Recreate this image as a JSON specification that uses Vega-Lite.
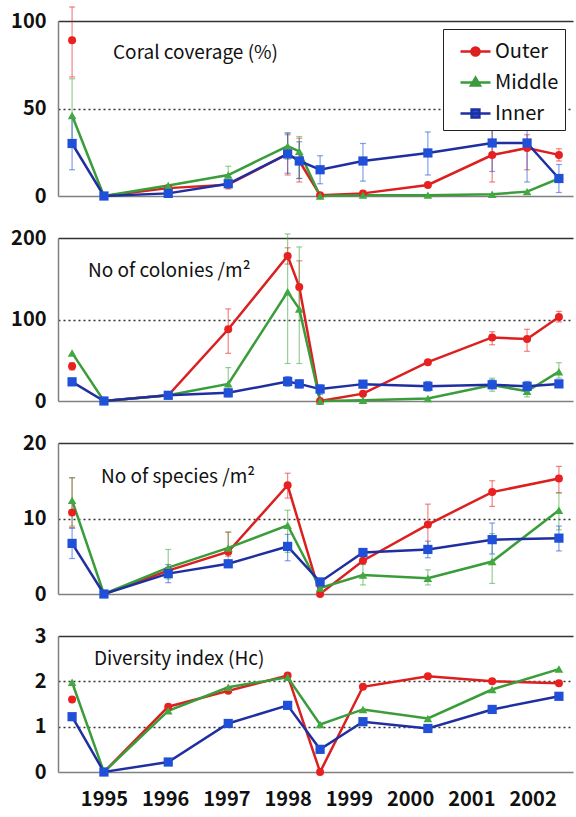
{
 "$schema": "https://vega.github.io/schema/vega-lite/v6.json",
 "padding": {"left": 10, "top": 6, "right": 2, "bottom": 4},
 "background": "white",
 "config": {
  "view": {"stroke": null},
  "font": "Noto Sans CJK JP",
  "axis": {"labelFont": "Noto Sans CJK JP", "labelFontSize": 20, "labelFontWeight": "bold", "labelColor": "#111", "ticks": false, "domainColor": "#808080", "domainWidth": 1.5, "labelPadding": 12},
  "title": {"font": "Noto Sans CJK JP", "fontSize": 19, "fontWeight": "normal", "color": "#111", "anchor": "start", "frame": "group", "baseline": "middle"}
 },
 "datasets": {
  "d": [
   {"p":"cov","s":"Outer","t":1994.48,"v":89,"lo":68,"hi":108,"g":"a"},
   {"p":"cov","s":"Outer","t":1995.0,"v":0,"g":"b"},
   {"p":"cov","s":"Outer","t":1996.05,"v":4.5,"g":"b"},
   {"p":"cov","s":"Outer","t":1997.03,"v":6.5,"lo":4,"hi":9,"g":"b"},
   {"p":"cov","s":"Outer","t":1998.0,"v":24,"lo":12,"hi":35,"g":"b"},
   {"p":"cov","s":"Outer","t":1998.19,"v":20,"lo":8,"hi":33,"g":"b"},
   {"p":"cov","s":"Outer","t":1998.53,"v":0.5,"g":"b"},
   {"p":"cov","s":"Outer","t":1999.23,"v":1.5,"g":"b"},
   {"p":"cov","s":"Outer","t":2000.29,"v":6.3,"g":"b"},
   {"p":"cov","s":"Outer","t":2001.34,"v":23.4,"lo":8,"hi":41,"g":"b"},
   {"p":"cov","s":"Outer","t":2001.91,"v":27.4,"lo":15,"hi":35,"g":"b"},
   {"p":"cov","s":"Outer","t":2002.43,"v":23.5,"lo":20,"hi":27,"g":"b"},
   {"p":"cov","s":"Middle","t":1994.48,"v":46,"lo":28,"hi":67,"g":"b"},
   {"p":"cov","s":"Middle","t":1995.0,"v":0,"g":"b"},
   {"p":"cov","s":"Middle","t":1996.05,"v":6,"g":"b"},
   {"p":"cov","s":"Middle","t":1997.03,"v":12,"lo":8,"hi":17,"g":"b"},
   {"p":"cov","s":"Middle","t":1998.0,"v":28.5,"lo":21,"hi":36,"g":"b"},
   {"p":"cov","s":"Middle","t":1998.19,"v":25.5,"lo":10,"hi":34,"g":"b"},
   {"p":"cov","s":"Middle","t":1998.53,"v":0,"g":"b"},
   {"p":"cov","s":"Middle","t":1999.23,"v":0.5,"g":"b"},
   {"p":"cov","s":"Middle","t":2000.29,"v":0.5,"g":"b"},
   {"p":"cov","s":"Middle","t":2001.34,"v":1,"g":"b"},
   {"p":"cov","s":"Middle","t":2001.91,"v":2.5,"g":"b"},
   {"p":"cov","s":"Middle","t":2002.43,"v":10,"g":"b"},
   {"p":"cov","s":"Inner","t":1994.48,"v":30,"lo":15,"hi":45,"g":"b"},
   {"p":"cov","s":"Inner","t":1995.0,"v":0,"g":"b"},
   {"p":"cov","s":"Inner","t":1996.05,"v":1.5,"g":"b"},
   {"p":"cov","s":"Inner","t":1997.03,"v":7,"lo":5,"hi":9,"g":"b"},
   {"p":"cov","s":"Inner","t":1998.0,"v":24,"lo":13,"hi":36,"g":"b"},
   {"p":"cov","s":"Inner","t":1998.19,"v":20,"lo":10,"hi":31,"g":"b"},
   {"p":"cov","s":"Inner","t":1998.53,"v":15,"lo":7,"hi":23,"g":"b"},
   {"p":"cov","s":"Inner","t":1999.23,"v":20,"lo":8.5,"hi":30,"g":"b"},
   {"p":"cov","s":"Inner","t":2000.29,"v":24.6,"lo":12,"hi":36.6,"g":"b"},
   {"p":"cov","s":"Inner","t":2001.34,"v":30.3,"lo":14,"hi":45.7,"g":"b"},
   {"p":"cov","s":"Inner","t":2001.91,"v":30.3,"lo":8,"hi":44.6,"g":"b"},
   {"p":"cov","s":"Inner","t":2002.43,"v":10,"lo":2,"hi":18,"g":"b"},

   {"p":"col","s":"Outer","t":1994.48,"v":42.7,"lo":38,"hi":47,"g":"a"},
   {"p":"col","s":"Outer","t":1995.0,"v":0,"g":"b"},
   {"p":"col","s":"Outer","t":1996.05,"v":7,"g":"b"},
   {"p":"col","s":"Outer","t":1997.03,"v":88,"lo":58.5,"hi":113,"g":"b"},
   {"p":"col","s":"Outer","t":1998.0,"v":178,"lo":168,"hi":188,"g":"b"},
   {"p":"col","s":"Outer","t":1998.19,"v":140,"lo":110,"hi":172,"g":"b"},
   {"p":"col","s":"Outer","t":1998.53,"v":0,"g":"b"},
   {"p":"col","s":"Outer","t":1999.23,"v":9,"g":"b"},
   {"p":"col","s":"Outer","t":2000.29,"v":47.6,"g":"b"},
   {"p":"col","s":"Outer","t":2001.34,"v":78,"lo":69,"hi":85,"g":"b"},
   {"p":"col","s":"Outer","t":2001.91,"v":76,"lo":61,"hi":88,"g":"b"},
   {"p":"col","s":"Outer","t":2002.43,"v":103,"lo":97,"hi":110,"g":"b"},
   {"p":"col","s":"Middle","t":1994.48,"v":59,"g":"b"},
   {"p":"col","s":"Middle","t":1995.0,"v":0,"g":"b"},
   {"p":"col","s":"Middle","t":1996.05,"v":7,"g":"b"},
   {"p":"col","s":"Middle","t":1997.03,"v":21,"lo":8,"hi":41,"g":"b"},
   {"p":"col","s":"Middle","t":1998.0,"v":134,"lo":46,"hi":205,"g":"b"},
   {"p":"col","s":"Middle","t":1998.19,"v":113,"lo":46,"hi":189,"g":"b"},
   {"p":"col","s":"Middle","t":1998.53,"v":0,"g":"b"},
   {"p":"col","s":"Middle","t":1999.23,"v":1,"g":"b"},
   {"p":"col","s":"Middle","t":2000.29,"v":3,"g":"b"},
   {"p":"col","s":"Middle","t":2001.34,"v":19.5,"lo":12,"hi":28,"g":"b"},
   {"p":"col","s":"Middle","t":2001.91,"v":12,"lo":5,"hi":20,"g":"b"},
   {"p":"col","s":"Middle","t":2002.43,"v":36,"lo":28,"hi":47,"g":"b"},
   {"p":"col","s":"Inner","t":1994.48,"v":23.5,"lo":19,"hi":28,"g":"b"},
   {"p":"col","s":"Inner","t":1995.0,"v":0,"g":"b"},
   {"p":"col","s":"Inner","t":1996.05,"v":7,"g":"b"},
   {"p":"col","s":"Inner","t":1997.03,"v":10,"lo":5,"hi":15,"g":"b"},
   {"p":"col","s":"Inner","t":1998.0,"v":24,"lo":18,"hi":30,"g":"b"},
   {"p":"col","s":"Inner","t":1998.19,"v":21,"lo":16,"hi":26,"g":"b"},
   {"p":"col","s":"Inner","t":1998.53,"v":14.6,"lo":8,"hi":20,"g":"b"},
   {"p":"col","s":"Inner","t":1999.23,"v":20.7,"lo":16,"hi":25,"g":"b"},
   {"p":"col","s":"Inner","t":2000.29,"v":18,"lo":12,"hi":24,"g":"b"},
   {"p":"col","s":"Inner","t":2001.34,"v":20,"lo":15,"hi":26,"g":"b"},
   {"p":"col","s":"Inner","t":2001.91,"v":18,"lo":12,"hi":24,"g":"b"},
   {"p":"col","s":"Inner","t":2002.43,"v":21,"lo":17,"hi":25,"g":"b"},

   {"p":"sp","s":"Outer","t":1994.48,"v":10.8,"lo":8.8,"hi":15.4,"g":"a"},
   {"p":"sp","s":"Outer","t":1995.0,"v":0,"g":"b"},
   {"p":"sp","s":"Outer","t":1996.05,"v":3.1,"g":"b"},
   {"p":"sp","s":"Outer","t":1997.03,"v":5.6,"lo":5,"hi":8.2,"g":"b"},
   {"p":"sp","s":"Outer","t":1998.0,"v":14.4,"lo":12.7,"hi":16,"g":"b"},
   {"p":"sp","s":"Outer","t":1998.53,"v":0,"g":"b"},
   {"p":"sp","s":"Outer","t":1999.23,"v":4.4,"g":"b"},
   {"p":"sp","s":"Outer","t":2000.29,"v":9.2,"lo":6.2,"hi":11.9,"g":"b"},
   {"p":"sp","s":"Outer","t":2001.34,"v":13.5,"lo":11.6,"hi":15,"g":"b"},
   {"p":"sp","s":"Outer","t":2002.43,"v":15.3,"lo":13.4,"hi":16.9,"g":"b"},
   {"p":"sp","s":"Middle","t":1994.48,"v":12.4,"lo":9,"hi":15.4,"g":"b"},
   {"p":"sp","s":"Middle","t":1995.0,"v":0,"g":"b"},
   {"p":"sp","s":"Middle","t":1996.05,"v":3.5,"lo":2,"hi":5.9,"g":"b"},
   {"p":"sp","s":"Middle","t":1997.03,"v":6.1,"lo":4.5,"hi":8.2,"g":"b"},
   {"p":"sp","s":"Middle","t":1998.0,"v":9.1,"lo":5.5,"hi":11.1,"g":"b"},
   {"p":"sp","s":"Middle","t":1998.53,"v":0.8,"g":"b"},
   {"p":"sp","s":"Middle","t":1999.23,"v":2.5,"lo":1.2,"hi":3.9,"g":"b"},
   {"p":"sp","s":"Middle","t":2000.29,"v":2.1,"lo":1.2,"hi":3.2,"g":"b"},
   {"p":"sp","s":"Middle","t":2001.34,"v":4.3,"lo":1.4,"hi":8,"g":"b"},
   {"p":"sp","s":"Middle","t":2002.43,"v":11.1,"lo":8.5,"hi":13.4,"g":"b"},
   {"p":"sp","s":"Inner","t":1994.48,"v":6.7,"lo":4.7,"hi":8.7,"g":"b"},
   {"p":"sp","s":"Inner","t":1995.0,"v":0,"g":"b"},
   {"p":"sp","s":"Inner","t":1996.05,"v":2.7,"lo":1.5,"hi":3.9,"g":"b"},
   {"p":"sp","s":"Inner","t":1997.03,"v":4.0,"g":"b"},
   {"p":"sp","s":"Inner","t":1998.0,"v":6.3,"lo":4.4,"hi":7.9,"g":"b"},
   {"p":"sp","s":"Inner","t":1998.53,"v":1.6,"g":"b"},
   {"p":"sp","s":"Inner","t":1999.23,"v":5.5,"g":"b"},
   {"p":"sp","s":"Inner","t":2000.29,"v":5.9,"lo":4.8,"hi":7,"g":"b"},
   {"p":"sp","s":"Inner","t":2001.34,"v":7.2,"lo":5.3,"hi":9.4,"g":"b"},
   {"p":"sp","s":"Inner","t":2002.43,"v":7.4,"lo":5.7,"hi":9,"g":"b"},

   {"p":"div","s":"Outer","t":1994.48,"v":1.6,"g":"a"},
   {"p":"div","s":"Outer","t":1995.0,"v":0,"g":"b"},
   {"p":"div","s":"Outer","t":1996.05,"v":1.44,"g":"b"},
   {"p":"div","s":"Outer","t":1997.03,"v":1.79,"g":"b"},
   {"p":"div","s":"Outer","t":1998.0,"v":2.13,"g":"b"},
   {"p":"div","s":"Outer","t":1998.53,"v":0,"g":"b"},
   {"p":"div","s":"Outer","t":1999.23,"v":1.88,"g":"b"},
   {"p":"div","s":"Outer","t":2000.29,"v":2.11,"g":"b"},
   {"p":"div","s":"Outer","t":2001.34,"v":2.0,"g":"b"},
   {"p":"div","s":"Outer","t":2002.43,"v":1.96,"g":"b"},
   {"p":"div","s":"Middle","t":1994.48,"v":1.98,"g":"b"},
   {"p":"div","s":"Middle","t":1995.0,"v":0,"g":"b"},
   {"p":"div","s":"Middle","t":1996.05,"v":1.35,"g":"b"},
   {"p":"div","s":"Middle","t":1997.03,"v":1.87,"g":"b"},
   {"p":"div","s":"Middle","t":1998.0,"v":2.09,"g":"b"},
   {"p":"div","s":"Middle","t":1998.53,"v":1.05,"g":"b"},
   {"p":"div","s":"Middle","t":1999.23,"v":1.38,"g":"b"},
   {"p":"div","s":"Middle","t":2000.29,"v":1.18,"g":"b"},
   {"p":"div","s":"Middle","t":2001.34,"v":1.82,"g":"b"},
   {"p":"div","s":"Middle","t":2002.43,"v":2.27,"g":"b"},
   {"p":"div","s":"Inner","t":1994.48,"v":1.22,"g":"b"},
   {"p":"div","s":"Inner","t":1995.0,"v":0,"g":"b"},
   {"p":"div","s":"Inner","t":1996.05,"v":0.22,"g":"b"},
   {"p":"div","s":"Inner","t":1997.03,"v":1.07,"g":"b"},
   {"p":"div","s":"Inner","t":1998.0,"v":1.47,"g":"b"},
   {"p":"div","s":"Inner","t":1998.53,"v":0.5,"g":"b"},
   {"p":"div","s":"Inner","t":1999.23,"v":1.11,"g":"b"},
   {"p":"div","s":"Inner","t":2000.29,"v":0.96,"g":"b"},
   {"p":"div","s":"Inner","t":2001.34,"v":1.38,"g":"b"},
   {"p":"div","s":"Inner","t":2002.43,"v":1.67,"g":"b"}
  ]
 },
 "bounds": "flush",
 "spacing": 42,
 "resolve": {"scale": {"color": "independent", "stroke": "independent", "shape": "independent", "size": "independent"}},
 "vconcat": [
  {
   "width": 515, "height": 175,
   "data": {"name": "d"},
   "transform": [{"filter": "datum.p === 'cov'"}],
   "title": {"text": "Coral coverage (%)", "offset": -57, "dx": 55},
   "resolve": {"scale": {"color": "independent", "stroke": "independent", "shape": "independent", "size": "independent"}},
   "encoding": {
    "x": {"field": "t", "type": "quantitative", "title": null, "scale": {"domain": [1994.25, 2002.66], "nice": false, "zero": false}, "axis": {"values": [1995,1996,1997,1998,1999,2000,2001,2002], "labels": false, "grid": false}}
   },
   "layer": [
    {"mark": {"type": "line", "strokeWidth": 2.5},
     "encoding": {
      "y": {"field": "v", "type": "quantitative", "title": null, "scale": {"domain": [0, 100], "nice": false}, "axis": {"values": [0, 50, 100], "gridColor": "#333", "gridWidth": 1.5, "gridDash": {"condition": {"test": "datum.value === 100", "value": [1, 0]}, "value": [2, 3]}, "gridOpacity": {"condition": {"test": "datum.value === 0", "value": 0}, "value": 1}}},
      "stroke": {"field": "s", "type": "nominal", "scale": {"domain": ["Outer", "Middle", "Inner"], "range": ["#dc1f1f", "#3a9c3a", "#1f2fa0"]}, "legend": null},
      "detail": {"field": "g"}}},
    {"transform": [{"filter": "isValid(datum.lo)"}],
     "mark": {"type": "errorbar", "ticks": {"size": 6}, "thickness": 1.2, "opacity": 0.55},
     "encoding": {
      "y": {"field": "lo", "type": "quantitative", "title": null},
      "y2": {"field": "hi"},
      "color": {"field": "s", "type": "nominal", "scale": {"domain": ["Outer", "Middle", "Inner"], "range": ["#e82020", "#42a842", "#2150d8"]}, "legend": null}}},
    {"mark": {"type": "point", "filled": true, "opacity": 1},
     "encoding": {
      "y": {"field": "v", "type": "quantitative", "title": null},
      "color": {"field": "s", "type": "nominal", "scale": {"domain": ["Outer", "Middle", "Inner"], "range": ["#e82020", "#42a842", "#2150d8"]}, "legend": null},
      "shape": {"field": "s", "type": "nominal", "scale": {"domain": ["Outer", "Middle", "Inner"], "range": ["circle", "triangle-up", "square"]}, "legend": null},
      "size": {"field": "s", "type": "nominal", "scale": {"domain": ["Outer", "Middle", "Inner"], "range": [64, 85, 64]}, "legend": null}}},
    {"mark": {"type": "point", "filled": true, "opacity": 0, "strokeWidth": 2.5, "size": 900},
     "encoding": {
      "y": {"field": "v", "type": "quantitative", "title": null},
      "color": {"field": "s", "type": "nominal", "scale": {"domain": ["Outer", "Middle", "Inner"], "range": ["#e82020", "#42a842", "#2150d8"]},
       "legend": {"orient": "top-right", "offset": 8, "title": null, "strokeColor": "#222", "fillColor": "white", "padding": 6, "symbolOffset": 10, "labelFont": "Noto Sans CJK JP", "labelFontSize": 20, "labelColor": "#111", "symbolSize": 900, "symbolStrokeWidth": 2.5, "symbolOpacity": 1, "rowPadding": 4, "labelOffset": 3}},
      "stroke": {"field": "s", "type": "nominal", "scale": {"domain": ["Outer", "Middle", "Inner"], "range": ["#dc1f1f", "#3a9c3a", "#1f2fa0"]},
       "legend": {"orient": "top-right", "offset": 8, "title": null, "strokeColor": "#222", "fillColor": "white", "padding": 6, "symbolOffset": 10, "labelFont": "Noto Sans CJK JP", "labelFontSize": 20, "labelColor": "#111", "symbolSize": 900, "symbolStrokeWidth": 2.5, "symbolOpacity": 1, "rowPadding": 4, "labelOffset": 3}},
      "shape": {"field": "s", "type": "nominal", "scale": {"domain": ["Outer", "Middle", "Inner"], "range": ["M-1,0H1M0.27,0A0.27,0.27 0 1 1 -0.27,0A0.27,0.27 0 1 1 0.27,0Z", "M-1,0H1M0,-0.32L0.3,0.2L-0.3,0.2Z", "M-1,0H1M-0.26,-0.26H0.26V0.26H-0.26Z"]},
       "legend": {"orient": "top-right", "offset": 8, "title": null, "strokeColor": "#222", "fillColor": "white", "padding": 6, "symbolOffset": 10, "labelFont": "Noto Sans CJK JP", "labelFontSize": 20, "labelColor": "#111", "symbolSize": 900, "symbolStrokeWidth": 2.5, "symbolOpacity": 1, "rowPadding": 4, "labelOffset": 3}}}}
   ]
  },
  {
   "width": 515, "height": 163,
   "data": {"name": "d"},
   "transform": [{"filter": "datum.p === 'col'"}],
   "title": {"text": "No of colonies /m²", "offset": -53, "dx": 30},
   "encoding": {
    "x": {"field": "t", "type": "quantitative", "title": null, "scale": {"domain": [1994.25, 2002.66], "nice": false, "zero": false}, "axis": {"values": [1995,1996,1997,1998,1999,2000,2001,2002], "labels": false, "grid": false}}
   },
   "layer": [
    {"mark": {"type": "line", "strokeWidth": 2.5},
     "encoding": {
      "y": {"field": "v", "type": "quantitative", "title": null, "scale": {"domain": [0, 200], "nice": false}, "axis": {"values": [0, 100, 200], "gridColor": "#333", "gridWidth": 1.5, "gridDash": {"condition": {"test": "datum.value === 200", "value": [1, 0]}, "value": [2, 3]}, "gridOpacity": {"condition": {"test": "datum.value === 0", "value": 0}, "value": 1}}},
      "stroke": {"field": "s", "type": "nominal", "scale": {"domain": ["Outer", "Middle", "Inner"], "range": ["#dc1f1f", "#3a9c3a", "#1f2fa0"]}, "legend": null},
      "detail": {"field": "g"}}},
    {"transform": [{"filter": "isValid(datum.lo)"}],
     "mark": {"type": "errorbar", "ticks": {"size": 6}, "thickness": 1.2, "opacity": 0.55},
     "encoding": {
      "y": {"field": "lo", "type": "quantitative", "title": null},
      "y2": {"field": "hi"},
      "color": {"field": "s", "type": "nominal", "scale": {"domain": ["Outer", "Middle", "Inner"], "range": ["#e82020", "#42a842", "#2150d8"]}, "legend": null}}},
    {"mark": {"type": "point", "filled": true, "opacity": 1},
     "encoding": {
      "y": {"field": "v", "type": "quantitative", "title": null},
      "color": {"field": "s", "type": "nominal", "scale": {"domain": ["Outer", "Middle", "Inner"], "range": ["#e82020", "#42a842", "#2150d8"]}, "legend": null},
      "shape": {"field": "s", "type": "nominal", "scale": {"domain": ["Outer", "Middle", "Inner"], "range": ["circle", "triangle-up", "square"]}, "legend": null},
      "size": {"field": "s", "type": "nominal", "scale": {"domain": ["Outer", "Middle", "Inner"], "range": [64, 85, 64]}, "legend": null}}}
   ]
  },
  {
   "width": 515, "height": 151,
   "data": {"name": "d"},
   "transform": [{"filter": "datum.p === 'sp'"}],
   "title": {"text": "No of species /m²", "offset": -54, "dx": 43},
   "encoding": {
    "x": {"field": "t", "type": "quantitative", "title": null, "scale": {"domain": [1994.25, 2002.66], "nice": false, "zero": false}, "axis": {"values": [1995,1996,1997,1998,1999,2000,2001,2002], "labels": false, "grid": false}}
   },
   "layer": [
    {"mark": {"type": "line", "strokeWidth": 2.5},
     "encoding": {
      "y": {"field": "v", "type": "quantitative", "title": null, "scale": {"domain": [0, 20], "nice": false}, "axis": {"values": [0, 10, 20], "gridColor": "#333", "gridWidth": 1.5, "gridDash": {"condition": {"test": "datum.value === 20", "value": [1, 0]}, "value": [2, 3]}, "gridOpacity": {"condition": {"test": "datum.value === 0", "value": 0}, "value": 1}}},
      "stroke": {"field": "s", "type": "nominal", "scale": {"domain": ["Outer", "Middle", "Inner"], "range": ["#dc1f1f", "#3a9c3a", "#1f2fa0"]}, "legend": null},
      "detail": {"field": "g"}}},
    {"transform": [{"filter": "isValid(datum.lo)"}],
     "mark": {"type": "errorbar", "ticks": {"size": 6}, "thickness": 1.2, "opacity": 0.55},
     "encoding": {
      "y": {"field": "lo", "type": "quantitative", "title": null},
      "y2": {"field": "hi"},
      "color": {"field": "s", "type": "nominal", "scale": {"domain": ["Outer", "Middle", "Inner"], "range": ["#e82020", "#42a842", "#2150d8"]}, "legend": null}}},
    {"mark": {"type": "point", "filled": true, "opacity": 1},
     "encoding": {
      "y": {"field": "v", "type": "quantitative", "title": null},
      "color": {"field": "s", "type": "nominal", "scale": {"domain": ["Outer", "Middle", "Inner"], "range": ["#e82020", "#42a842", "#2150d8"]}, "legend": null},
      "shape": {"field": "s", "type": "nominal", "scale": {"domain": ["Outer", "Middle", "Inner"], "range": ["circle", "triangle-up", "square"]}, "legend": null},
      "size": {"field": "s", "type": "nominal", "scale": {"domain": ["Outer", "Middle", "Inner"], "range": [64, 85, 64]}, "legend": null}}}
   ]
  },
  {
   "width": 515, "height": 136,
   "data": {"name": "d"},
   "transform": [{"filter": "datum.p === 'div'"}],
   "title": {"text": "Diversity index (Hc)", "offset": -43, "dx": 36},
   "encoding": {
    "x": {"field": "t", "type": "quantitative", "title": null, "scale": {"domain": [1994.25, 2002.66], "nice": false, "zero": false}, "axis": {"values": [1995,1996,1997,1998,1999,2000,2001,2002], "format": "d", "grid": false, "labelPadding": 17}}
   },
   "layer": [
    {"mark": {"type": "line", "strokeWidth": 2.5},
     "encoding": {
      "y": {"field": "v", "type": "quantitative", "title": null, "scale": {"domain": [0, 3], "nice": false}, "axis": {"values": [0, 1, 2, 3], "gridColor": "#333", "gridWidth": 1.5, "gridDash": {"condition": {"test": "datum.value === 3", "value": [1, 0]}, "value": [2, 3]}, "gridOpacity": {"condition": {"test": "datum.value === 0", "value": 0}, "value": 1}}},
      "stroke": {"field": "s", "type": "nominal", "scale": {"domain": ["Outer", "Middle", "Inner"], "range": ["#dc1f1f", "#3a9c3a", "#1f2fa0"]}, "legend": null},
      "detail": {"field": "g"}}},
    {"mark": {"type": "point", "filled": true, "opacity": 1},
     "encoding": {
      "y": {"field": "v", "type": "quantitative", "title": null},
      "color": {"field": "s", "type": "nominal", "scale": {"domain": ["Outer", "Middle", "Inner"], "range": ["#e82020", "#42a842", "#2150d8"]}, "legend": null},
      "shape": {"field": "s", "type": "nominal", "scale": {"domain": ["Outer", "Middle", "Inner"], "range": ["circle", "triangle-up", "square"]}, "legend": null},
      "size": {"field": "s", "type": "nominal", "scale": {"domain": ["Outer", "Middle", "Inner"], "range": [64, 85, 64]}, "legend": null}}}
   ]
  }
 ]
}
